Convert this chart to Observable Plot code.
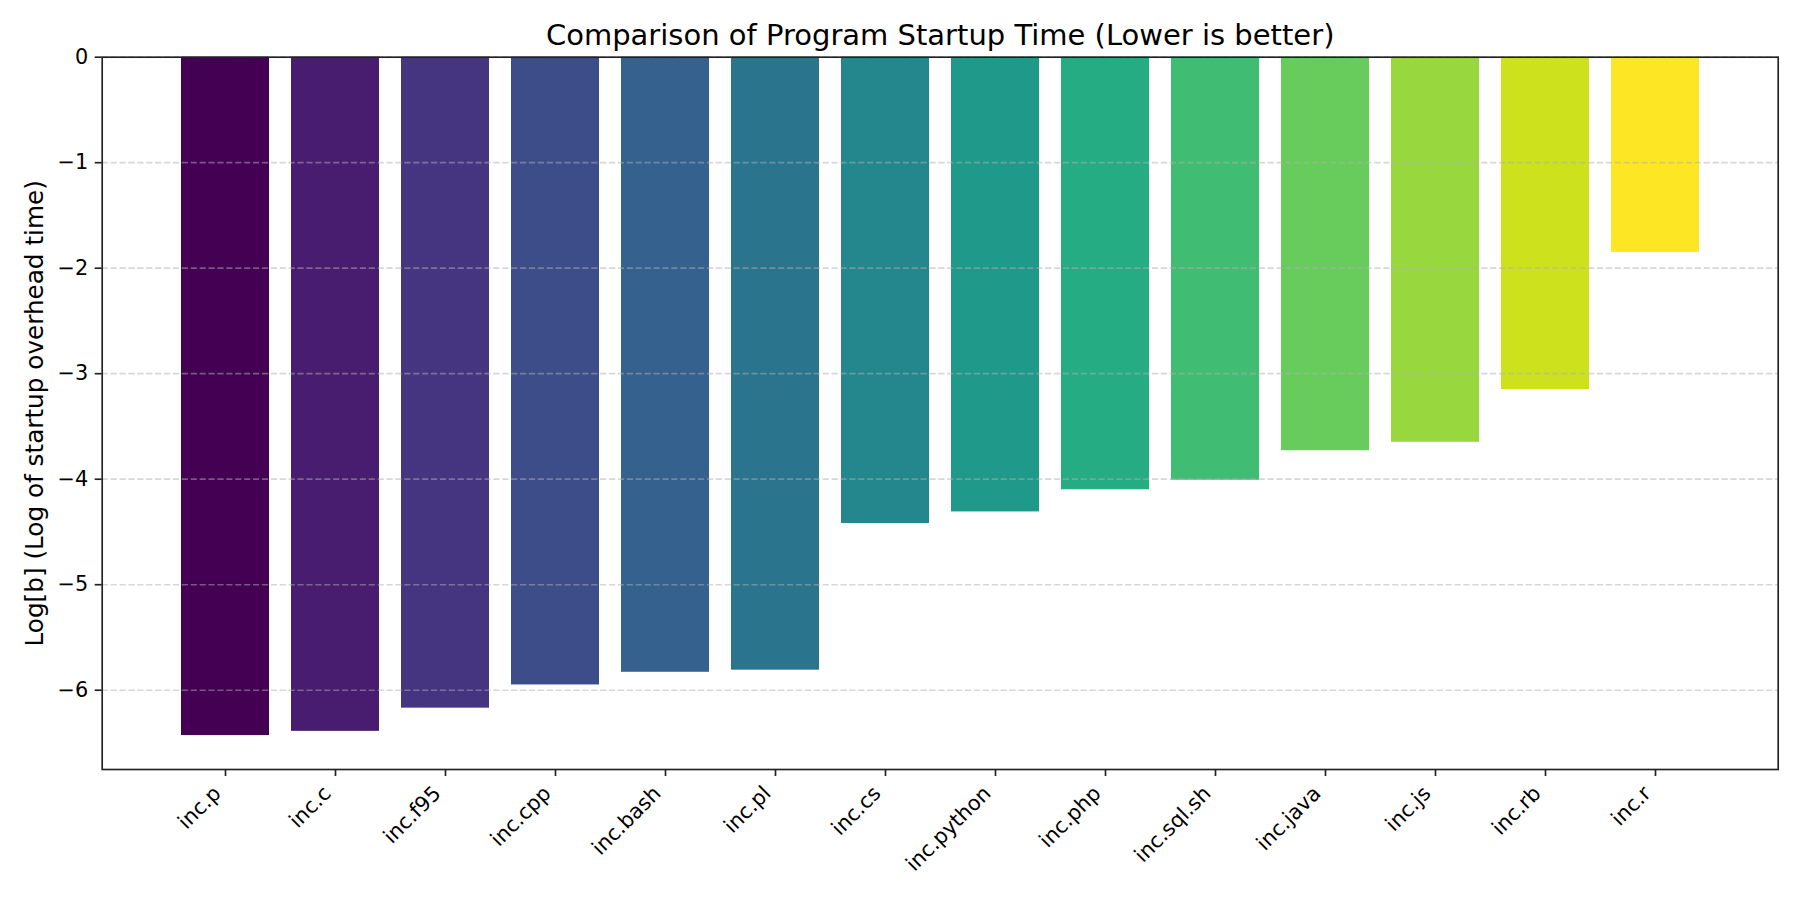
<!DOCTYPE html>
<html>
<head>
<meta charset="utf-8">
<script src="https://cdn.jsdelivr.net/npm/d3@7"></script>
<script src="https://cdn.jsdelivr.net/npm/@observablehq/plot@0.6"></script>
<style>
  html, body { margin: 0; padding: 0; background: white; }
  #chart svg { display: block; }
</style>
</head>
<body>
<div id="chart"></div>
<script>
// Programs, in the order they are drawn
const programs = ["inc.p", "inc.c", "inc.f95", "inc.cpp", "inc.bash", "inc.pl", "inc.cs",
  "inc.python", "inc.php", "inc.sql.sh", "inc.java", "inc.js", "inc.rb", "inc.r"];

// Log of startup overhead time for each program
const logTimes = [-6.43, -6.39, -6.17, -5.95, -5.83, -5.81, -4.42,
  -4.31, -4.10, -4.01, -3.73, -3.65, -3.15, -1.85];

// Y tick values
const yTicks = [0, -1, -2, -3, -4, -5, -6];

const chartTitle = "Comparison of Program Startup Time (Lower is better)";
const yLabel = "Log[b] (Log of startup overhead time)";

const rows = programs.map((name, i) => ({name, value: logTimes[i]}));

const ink = "#222";
const lw = 1.67;
const tickFont = 20.8;

const chart = Plot.plot({
  width: 1800,
  height: 900,
  marginLeft: 101.7,
  marginRight: 22.3,
  marginTop: 56.7,
  marginBottom: 131,
  style: {fontFamily: "'DejaVu Sans', sans-serif", color: "black", background: "white"},
  x: {domain: programs, paddingInner: 0.2, paddingOuter: 0.69},
  y: {domain: [d3.min(logTimes) * 1.05, 0]},
  color: {type: "ordinal", scheme: "viridis", domain: programs},
  marks: [
    Plot.barY(rows, {x: "name", y: "value", fill: "name"}),
    Plot.gridY(yTicks, {stroke: "#b0b0b0", strokeOpacity: 0.5, strokeWidth: lw, strokeDasharray: "6.2 2.7"}),
    Plot.axisY(yTicks, {tickSize: 7, tickPadding: 7, fontSize: tickFont, stroke: ink, strokeWidth: lw,
      tickFormat: d3.format("d"), label: null}),
    Plot.axisX({tickSize: 7, tickFormat: () => "", stroke: ink, strokeWidth: lw, label: null}),
    // rotated category labels
    Plot.text(programs, {x: d => d, text: d => d, frameAnchor: "bottom", dx: -3.5, dy: 25.2,
      rotate: -45, textAnchor: "end", lineAnchor: "bottom", fontSize: tickFont, fill: "black"}),
    // y axis title
    Plot.text([yLabel], {text: d => d, frameAnchor: "left", dx: -59, rotate: -90,
      textAnchor: "middle", lineAnchor: "bottom", fontSize: 24.7, fill: "black"}),
    // chart title
    Plot.text([chartTitle], {text: d => d, frameAnchor: "top", dy: -12.4,
      lineAnchor: "bottom", fontSize: 29, fill: "black"}),
    Plot.frame({stroke: ink, strokeWidth: lw})
  ]
});

document.getElementById("chart").append(chart);
</script>
</body>
</html>
